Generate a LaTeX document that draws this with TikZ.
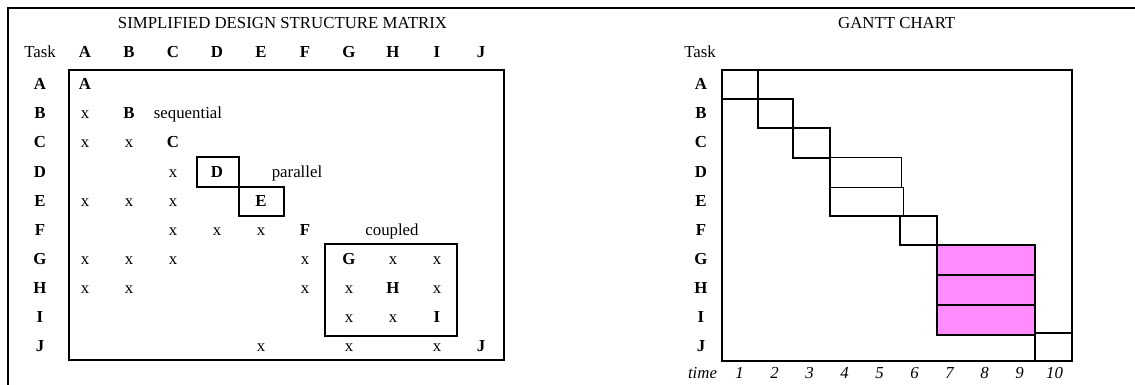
\documentclass[tikz,border=0pt]{standalone}
\usepackage{fontspec}
\setmainfont{Liberation Serif}
\definecolor{coupledfill}{RGB}{255,140,255}
\begin{document}
\begin{tikzpicture}[x=1pt,y=-1pt,
  txt/.style={font=\fontsize{16.8}{20}\selectfont, inner sep=0pt, anchor=base},
  lbl/.style={txt, font=\fontsize{16.8}{20}\selectfont\bfseries},
  tlbl/.style={txt, font=\fontsize{16.8}{20}\selectfont\itshape},
  frame/.style={line width=1.5pt},
  thickbox/.style={line width=2pt},
  thinbox/.style={line width=1pt},
  coupledbox/.style={thickbox, fill=coupledfill}]
\useasboundingbox (0,0) rectangle (1135,385);
% outer frame
\draw[frame] (8,385) -- (8,8) -- (1135,8);

% ---------- DSM ----------
\node[txt] (dsmtitle) at (282.5,28.5) {SIMPLIFIED DESIGN STRUCTURE MATRIX};
\node[txt] (dsmtask) at (40,57.5) {Task};
\draw[thickbox] (69,70) rectangle (504,360);
\draw[thickbox] (197,157) rectangle (239,187);
\draw[thickbox] (239,187) rectangle (284,216);
\draw[thickbox] (325,244) rectangle (457,336);
\foreach \l [count=\i] in {A,B,C,D,E,F,G,H,I,J} {
  \node[lbl] (dc\l) at ({85+44*(\i-1)},57.5) {\l};
  \node[lbl] (dr\l) at (40,{90+29*(\i-1)}) {\l};
  \node[lbl] (dd\l) at ({85+44*(\i-1)},{90+29*(\i-1)}) {\l};
}
\foreach \c/\r in {1/2, 1/3,2/3, 3/4, 1/5,2/5,3/5, 3/6,4/6,5/6,
                   1/7,2/7,3/7,6/7,8/7,9/7, 1/8,2/8,6/8,7/8,9/8,
                   7/9,8/9, 5/10,7/10,9/10} {
  \node[txt] (x\c-\r) at ({85+44*(\c-1)},{90+29*(\r-1)}) {x};
}
\node[txt] (seq) at (188,119) {sequential};
\node[txt] (par) at (297,177) {parallel};
\node[txt] (cpl) at (392,235) {coupled};

% ---------- Gantt ----------
\node[txt] (gtitle) at (896.7,28.5) {GANTT CHART};
\node[txt] (gtask) at (700,57.5) {Task};
\node[tlbl] (gtime) at (702.5,378) {time};
\foreach \l [count=\i] in {A,B,C,D,E,F,G,H,I,J} {
  \node[lbl] (gr\l) at (701,{90+29*(\i-1)}) {\l};
  \node[tlbl] (gt\i) at ({739.5+35*(\i-1)},378) {\i};
}
\draw[thickbox] (722,70) rectangle (1072,361);
\draw[thickbox] (722,70) rectangle (758,99);
\draw[thickbox] (758,99) rectangle (793,128);
\draw[thickbox] (793,128) rectangle (830,158);
\draw[thinbox] (830,158) rectangle (901,187);
\draw[thinbox] (830,187) rectangle (903,216);
\draw[thickbox] (830,158) -- (830,216) -- (903,216);
\draw[thickbox] (900,216) rectangle (937,245);
\draw[coupledbox] (937,245) rectangle (1035,275);
\draw[coupledbox] (937,275) rectangle (1035,305);
\draw[coupledbox] (937,305) rectangle (1035,335);
\draw[thickbox] (1035,333) rectangle (1072,361);
\end{tikzpicture}
\end{document}
